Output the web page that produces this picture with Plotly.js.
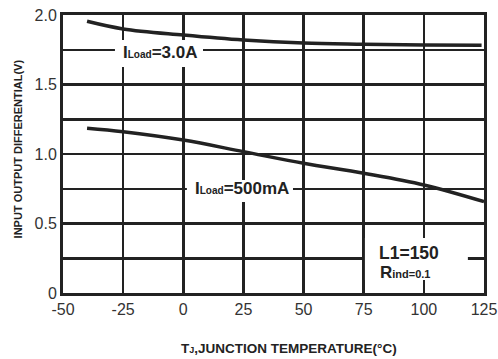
<!DOCTYPE html>
<html>
<head>
<meta charset="utf-8">
<script src="https://cdn.plot.ly/plotly-3.0.1.min.js"></script>
<style>html,body{margin:0;padding:0;background:#fff;}#chart{width:498px;height:359px;}</style>
</head>
<body>
<div id="chart"></div>
<script>
const tempC = [-40, -25, 0, 25, 50, 75, 100, 124];
const load3A = [1.955, 1.90, 1.856, 1.82, 1.798, 1.79, 1.784, 1.782];
const tempC2 = [-40, -25, 0, 25, 50, 75, 100, 125];
const load500mA = [1.185, 1.16, 1.10, 1.017, 0.933, 0.861, 0.777, 0.657];
const xTicks = [-50, -25, 0, 25, 50, 75, 100, 125];
const xTickText = ['-50', '-25', '0', '25', '50', '75', '100', '125'];
const yTicks = [0, 0.25, 0.5, 0.75, 1.0, 1.25, 1.5, 1.75, 2.0];
const yTickText = ['0', '', '0.5', '', '1.0', '', '1.5', '', '2.0'];
const xTitle = '<b>T<span style="font-size:9px">J</span>,JUNCTION TEMPERATURE(°C)</b>';
const yTitle = '<b>INPUT OUTPUT DIFFERENTIAL(V)</b>';

const ink = '#222';
const traces = [
  {x: tempC, y: load3A, mode: 'lines', line: {color: ink, width: 3.5, shape: 'spline'}, hoverinfo: 'skip'},
  {x: tempC2, y: load500mA, mode: 'lines', line: {color: ink, width: 3.5, shape: 'spline'}, hoverinfo: 'skip'}
];

const boxes = [
  [-28.4, 1.626, 8.2, 1.82],
  [1.5, 0.655, 45.6, 0.813],
  [75.5, 0.094, 118.3, 0.396]
];
const shapes = boxes.map(b => ({type: 'rect', xref: 'x', yref: 'y', x0: b[0], y0: b[1], x1: b[2], y1: b[3],
  fillcolor: '#fff', line: {width: 0}, layer: 'between'}));

const f = 'Liberation Sans, Arial, sans-serif';
const annotations = [
  {x: -25.9, y: 1.73, xanchor: 'left', yanchor: 'middle', showarrow: false,
   text: '<b>I<span style="font-size:10px">Load</span>=3.0A</b>', font: {family: f, size: 17, color: ink}},
  {x: 4.0, y: 0.755, xanchor: 'left', yanchor: 'middle', showarrow: false,
   text: '<b>I<span style="font-size:10px">Load</span>=500mA</b>', font: {family: f, size: 17, color: ink}},
  {x: 80.5, y: 0.29, xanchor: 'left', yanchor: 'middle', showarrow: false,
   text: '<b>L1=150</b>', font: {family: f, size: 17.5, color: ink}},
  {x: 80.9, y: 0.15, xanchor: 'left', yanchor: 'middle', showarrow: false,
   text: '<b>R<span style="font-size:11px">ind=0.1</span></b>', font: {family: f, size: 17, color: ink}},
  {xref: 'paper', yref: 'paper', x: 0.537, y: -0.198, xanchor: 'center', yanchor: 'middle', showarrow: false,
   text: xTitle, font: {family: f, size: 13.5, color: ink}},
  {xref: 'paper', yref: 'paper', x: -0.107, y: 0.52, xanchor: 'center', yanchor: 'middle', showarrow: false,
   textangle: -90, text: yTitle, font: {family: f, size: 11, color: ink}}
];

const layout = {
  width: 498, height: 359,
  margin: {l: 63, r: 14, t: 15, b: 66},
  paper_bgcolor: '#fff', plot_bgcolor: '#fff',
  showlegend: false,
  xaxis: {
    range: [-50, 125], tickvals: xTicks, ticktext: xTickText, ticks: '', showgrid: true, gridcolor: ink, gridwidth: 2.5,
    zeroline: false, showline: true, linecolor: ink, linewidth: 3, mirror: true,
    tickfont: {family: f, size: 16, color: '#333'}
  },
  yaxis: {
    range: [0, 2], tickvals: yTicks, ticktext: yTickText, ticks: '', showgrid: true, gridcolor: ink, gridwidth: 2.5,
    zeroline: false, showline: true, linecolor: ink, linewidth: 3, mirror: true,
    tickfont: {family: f, size: 16, color: '#333'}
  },
  shapes: shapes,
  annotations: annotations
};
Plotly.newPlot('chart', traces, layout, {displayModeBar: false, staticPlot: true});
</script>
</body>
</html>
